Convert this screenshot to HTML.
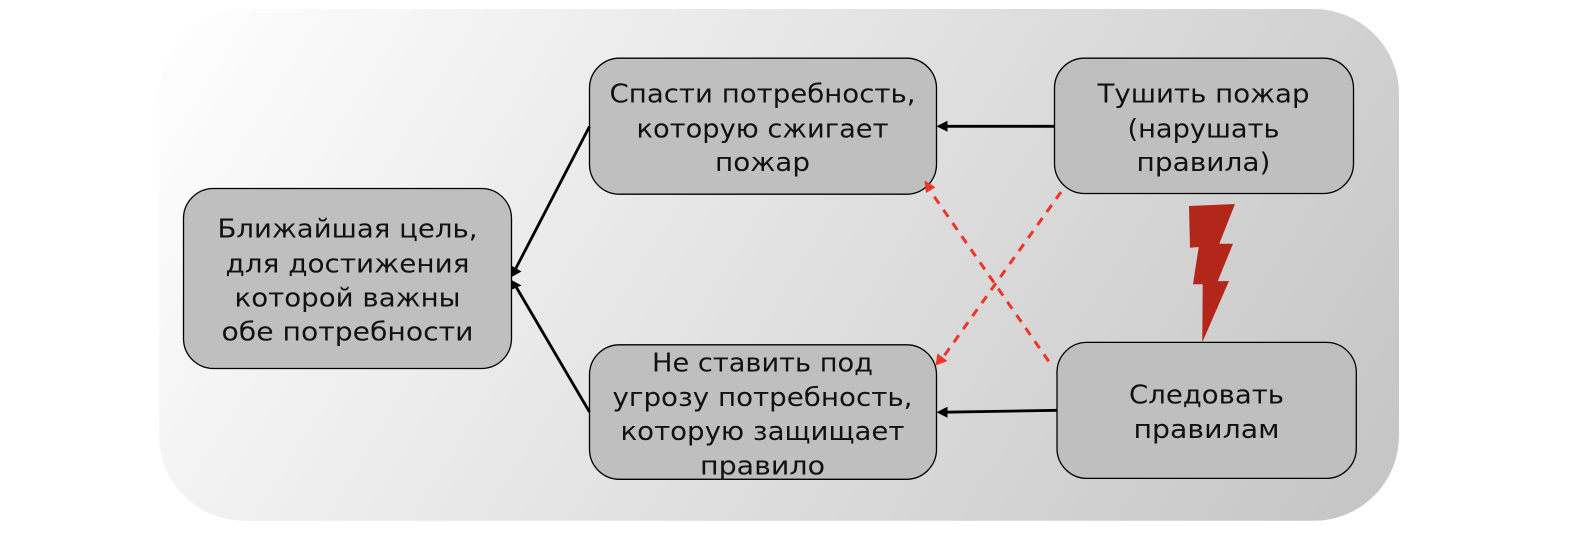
<!DOCTYPE html>
<html><head><meta charset="utf-8"><style>
html,body{margin:0;padding:0;background:#fff;width:1572px;height:560px;overflow:hidden}
svg{display:block}
text{font-family:"DejaVu Sans","Liberation Sans",sans-serif;font-size:26px;fill:#111;text-anchor:middle}
</style></head><body>
<svg width="1572" height="560" viewBox="0 0 1572 560" xmlns="http://www.w3.org/2000/svg">
<defs>
<linearGradient id="bg" gradientUnits="userSpaceOnUse" x1="159" y1="9" x2="1455" y2="813">
<stop offset="0" stop-color="#ffffff"/><stop offset="1" stop-color="#bbbbbb"/></linearGradient>
</defs>
<rect x="159" y="9" width="1240" height="511.7" rx="85" fill="url(#bg)"/>
<g fill="#bfbfbf" stroke="#000" stroke-width="1.3">
<rect x="183.5" y="188.5" width="328" height="180" rx="30"/>
<rect x="589.5" y="58.2" width="347" height="136" rx="30"/>
<rect x="1054.5" y="58.2" width="299" height="135.3" rx="30"/>
<rect x="589.5" y="344.8" width="347" height="134.5" rx="30"/>
<rect x="1057" y="342.4" width="299.3" height="136" rx="30"/>
</g>
<polygon fill="#b3271b" points="1189,206 1235,204 1219.3,243.7 1233,243.7 1217.7,281.3 1229,281 1202.3,342.3 1202.7,284.3 1193,284.3 1198.7,247 1190,247.7"/>
<g stroke="#000" stroke-width="2.8" fill="none">
<line x1="589.5" y1="126.5" x2="515" y2="270"/>
<line x1="589.5" y1="412" x2="515" y2="285"/>
<line x1="1054.5" y1="126.3" x2="945" y2="126.3"/>
<line x1="1057" y1="410.3" x2="945" y2="412.2"/>
</g>
<g fill="#000">
<polygon points="511.5,277 512,266 521.5,271.5"/>
<polygon points="511.5,280 521.5,285.5 512,289.5"/>
<polygon points="936.5,126.3 947.5,120.8 947.5,131.8"/>
<polygon points="936.5,412.3 947.5,406.8 947.5,417.8"/>
</g>
<g stroke="#ef3428" stroke-width="3" fill="none" stroke-dasharray="8.5 7.5">
<line x1="934.3" y1="196.7" x2="1049" y2="361.7"/>
<line x1="1061" y1="192" x2="944" y2="356"/>
</g>
<g fill="#ef3428">
<polygon points="924.5,180.5 935.5,187.3 926,193"/>
<polygon points="935.5,365.5 937.5,353.5 947.5,361"/>
</g>
<text x="347.5" y="237.5" textLength="260" lengthAdjust="spacingAndGlyphs">Ближайшая цель,</text>
<text x="347.5" y="272.3" textLength="244" lengthAdjust="spacingAndGlyphs">для достижения</text>
<text x="347.5" y="306.7" textLength="226" lengthAdjust="spacingAndGlyphs">которой важны</text>
<text x="347.5" y="340.5" textLength="252" lengthAdjust="spacingAndGlyphs">обе потребности</text>
<text x="762.5" y="102.5" textLength="306" lengthAdjust="spacingAndGlyphs">Спасти потребность,</text>
<text x="762.5" y="137.3" textLength="252" lengthAdjust="spacingAndGlyphs">которую сжигает</text>
<text x="762.5" y="171" textLength="95" lengthAdjust="spacingAndGlyphs">пожар</text>
<text x="1203.5" y="102.5" textLength="212" lengthAdjust="spacingAndGlyphs">Тушить пожар</text>
<text x="1203.5" y="137.3" textLength="152" lengthAdjust="spacingAndGlyphs">(нарушать</text>
<text x="1203.5" y="171" textLength="134" lengthAdjust="spacingAndGlyphs">правила)</text>
<text x="762.5" y="371.7" textLength="221" lengthAdjust="spacingAndGlyphs">Не ставить под</text>
<text x="762.5" y="406" textLength="300" lengthAdjust="spacingAndGlyphs">угрозу потребность,</text>
<text x="762.5" y="440" textLength="284" lengthAdjust="spacingAndGlyphs">которую защищает</text>
<text x="762.5" y="474.3" textLength="125" lengthAdjust="spacingAndGlyphs">правило</text>
<text x="1206.5" y="403.5" textLength="155" lengthAdjust="spacingAndGlyphs">Следовать</text>
<text x="1206.5" y="438" textLength="146" lengthAdjust="spacingAndGlyphs">правилам</text>
</svg>
</body></html>
